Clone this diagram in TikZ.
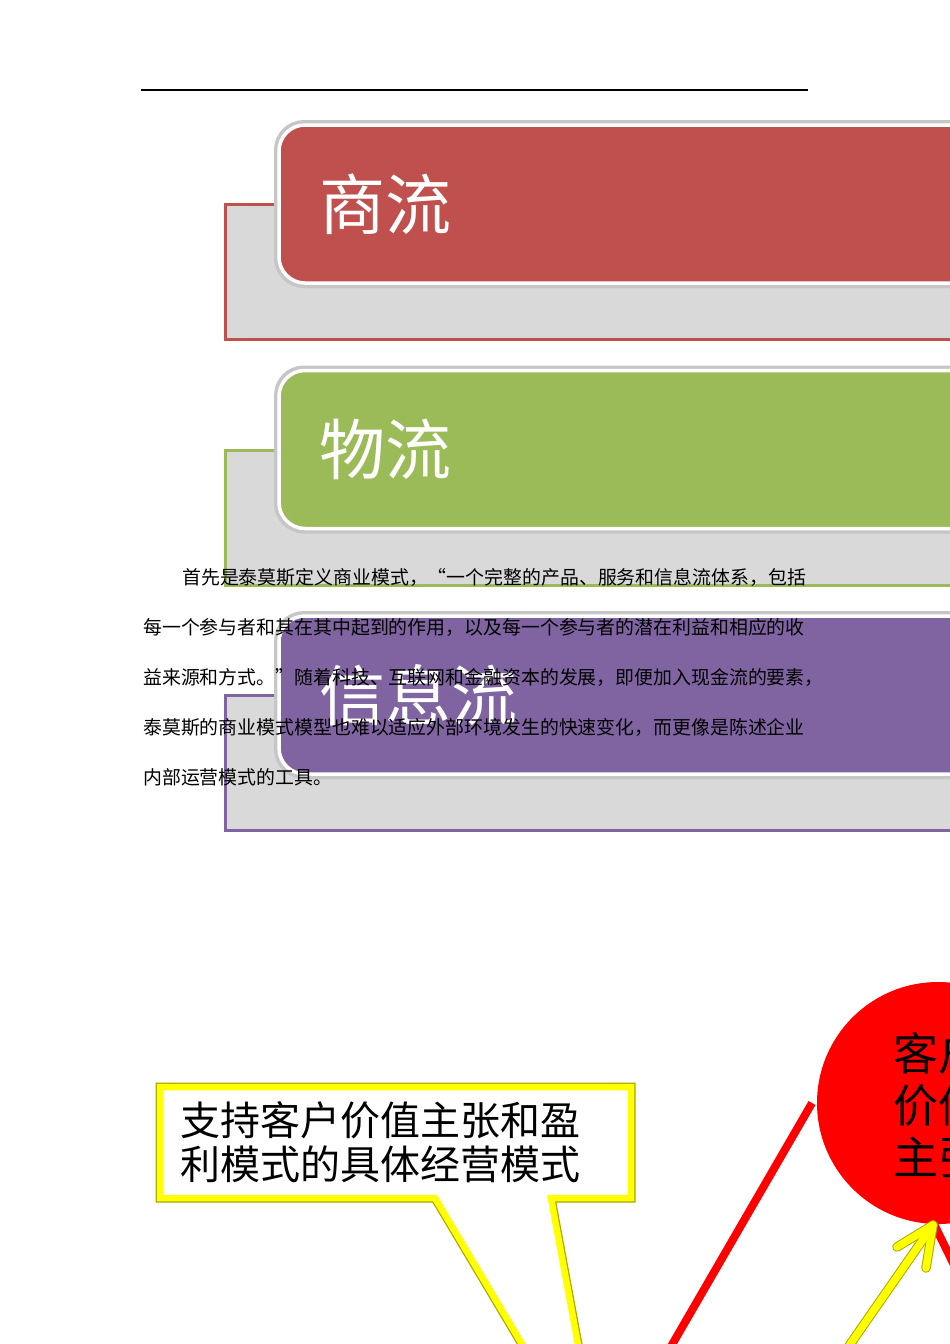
\documentclass[tikz,border=0pt]{standalone}
\usepackage{fontspec}
\newfontfamily\cjk{Noto Sans CJK SC}
\usetikzlibrary{calc}
\definecolor{cred}{HTML}{C0504D}
\definecolor{cgreen}{HTML}{9BBB59}
\definecolor{cpurple}{HTML}{8064A2}
\definecolor{backgray}{HTML}{D9D9D9}
\definecolor{yel}{HTML}{FFFF00}
\definecolor{yedge}{HTML}{A8A800}
\tikzset{
  backbox/.style={fill=backgray, draw=#1, line width=3pt},
  frontedge/.style={draw=gray!45, line width=6pt, rounded corners=27pt},
  frontbox/.style={fill=#1, draw=white, line width=3.5pt, rounded corners=26pt},
  blocklabel/.style={text=white, font=\cjk\fontsize{66}{70}\selectfont, inner sep=0pt, anchor=west},
  bodyline/.style={text=black, font=\cjk\fontsize{18.9}{22}\selectfont, inner sep=0pt, anchor=west},
  calloutedge/.style={draw=yedge, line width=9pt, line join=miter},
  calloutbox/.style={fill=white, draw=yel, line width=6.5pt, line join=miter},
  redline/.style={draw=red, line width=8pt},
  yarrowedge/.style={draw=yedge, line width=9.5pt, line cap=round, line join=round},
  yarrow/.style={draw=yel, line width=7.5pt, line cap=round, line join=round},
}
\begin{document}
\begin{tikzpicture}[x=1pt,y=-1pt]
\useasboundingbox (0,0) rectangle (950,1344);
\clip (0,0) rectangle (950,1344);
% top rule
\coordinate (ruleL) at (141,90);
\coordinate (ruleR) at (808,90);
\draw[line width=1.3pt] (ruleL) -- (ruleR);
% three blocks
\foreach \c/\dy/\lab/\nm in {cred/0/商流/lab1, cgreen/245.5/物流/lab2, cpurple/491/信息流/lab3} {
  \draw[backbox=\c] (225.5,{204.5+\dy}) rectangle (1000,{339.5+\dy});
  \draw[frontedge] (277,{123+\dy}) rectangle (1020,{285+\dy});
  \path[frontbox=\c] (279,{125+\dy}) rectangle (1020,{283+\dy});
  \node[blocklabel] (\nm) at (319,{204+\dy}) {\lab};
}
% paragraph
\node[bodyline] (p1) at (182,577) {首先是泰莫斯定义商业模式，“一个完整的产品、服务和信息流体系，包括};
\node[bodyline] (p2) at (143,627) {每一个参与者和其在其中起到的作用，以及每一个参与者的潜在利益和相应的收};
\node[bodyline] (p3) at (143,677) {益来源和方式。”随着科技、互联网和金融资本的发展，即便加入现金流的要素，};
\node[bodyline] (p4) at (143,727) {泰莫斯的商业模式模型也难以适应外部环境发生的快速变化，而更像是陈述企业};
\node[bodyline] (p5) at (143,777) {内部运营模式的工具。};
% callout
\draw[calloutedge] (160,1087) -- (631,1087) -- (631,1198) -- (551,1198) -- (603,1480) -- (435,1198) -- (160,1198) -- cycle;
\draw[calloutbox] (160,1087) -- (631,1087) -- (631,1198) -- (551,1198) -- (603,1480) -- (435,1198) -- (160,1198) -- cycle;
\node[text=black, font=\cjk\fontsize{40}{44}\selectfont, align=left, inner sep=0pt, anchor=north west] (ct) at (180,1101) {支持客户价值主张和盈\\利模式的具体经营模式};
% red circle
\node[circle, fill=red, minimum size=242pt, inner sep=0pt] (cv) at (938,1103) {};
\node[text=black, font=\cjk\fontsize{45}{52}\selectfont, align=center, inner sep=0pt] (cvt) at (938,1105) {客户\\价值\\主张};
% red lines
\coordinate (rl1) at (662,1362);
\coordinate (rl1top) at (812,1103);
\draw[redline] (rl1) -- (rl1top);
\coordinate (rl2end) at (975,1308);
\draw[redline] (933,1222) -- (rl2end);
% yellow arrow
\coordinate (yb) at (842,1356);
\coordinate (yt) at (933,1225);
\coordinate (yw1) at ($(yt)+(-36,22)$);
\coordinate (yw2) at ($(yt)+(-7,43)$);
\draw[yarrowedge] (yb) -- (yt);
\draw[yarrowedge] (yw1) -- (yt) -- (yw2);
\draw[yarrow] (yb) -- (yt);
\draw[yarrow] (yw1) -- (yt) -- (yw2);
\end{tikzpicture}
\end{document}
